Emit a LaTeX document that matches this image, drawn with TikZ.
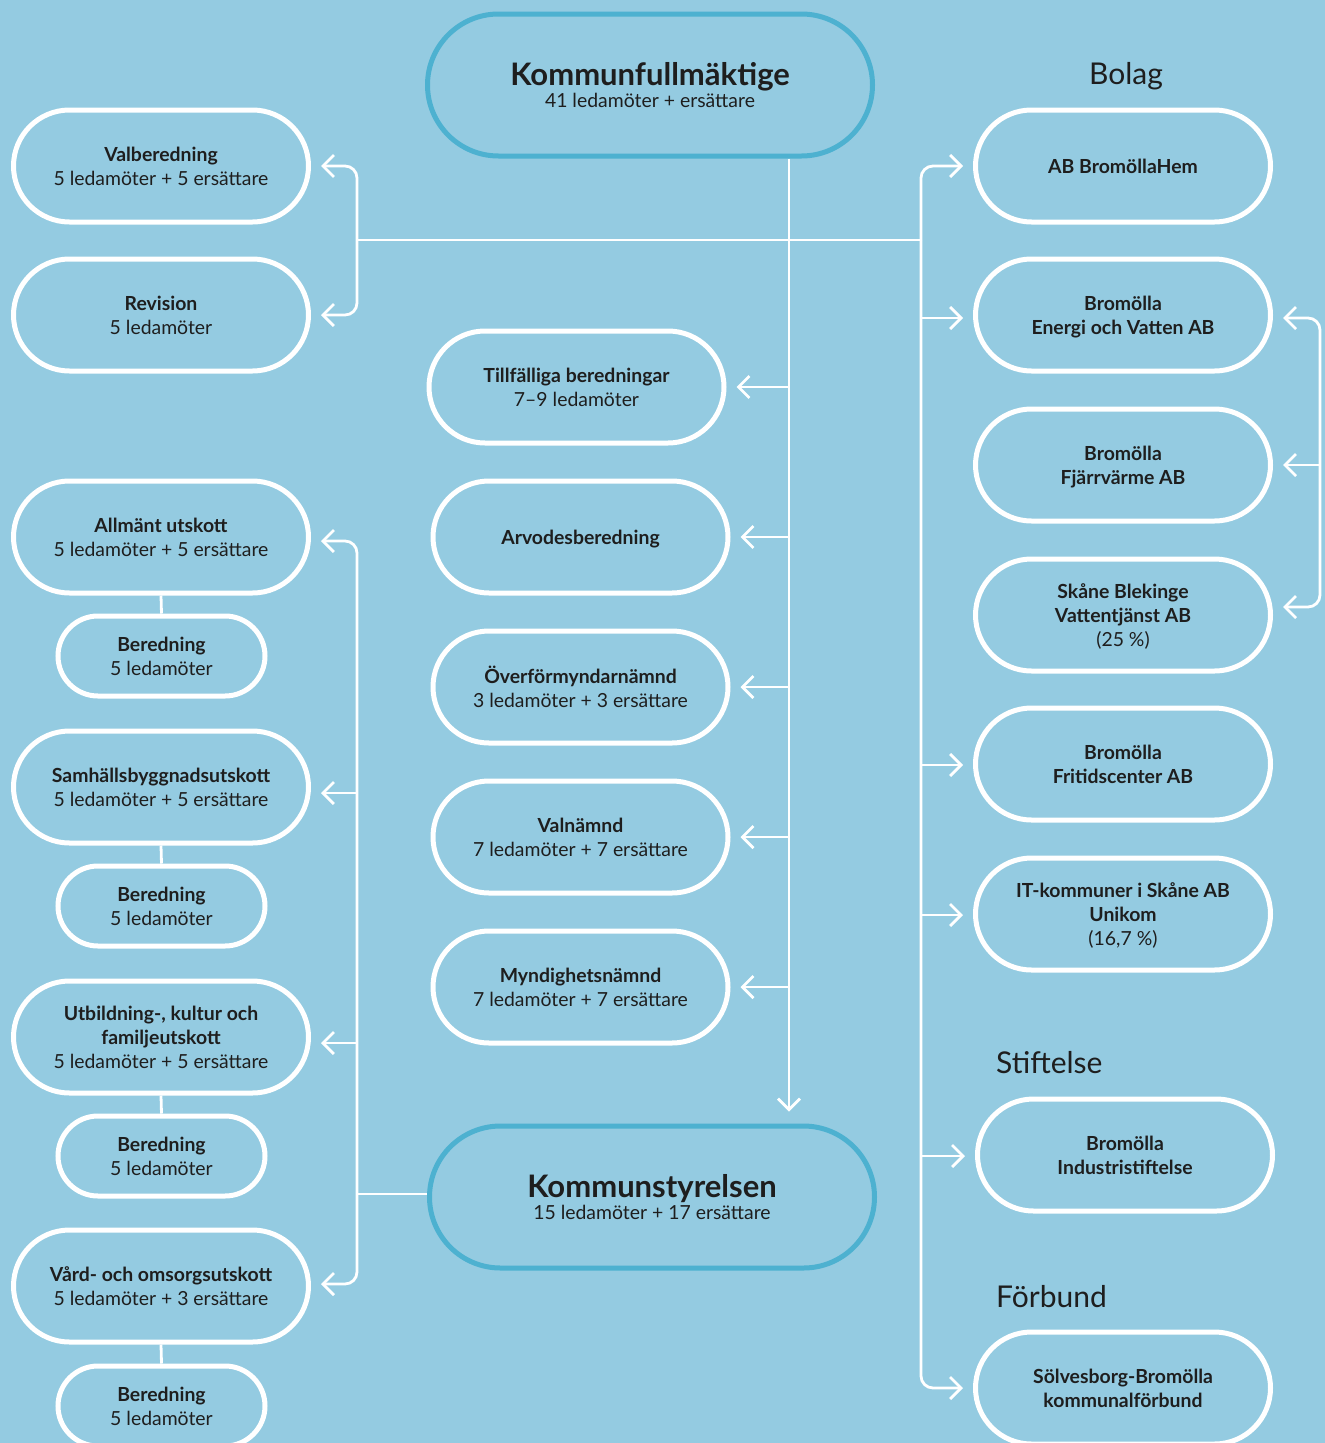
\documentclass[tikz,border=0pt]{standalone}
\usepackage{fontspec}
\setmainfont{Lato}
\usetikzlibrary{arrows.meta}
\definecolor{bg}{RGB}{148,203,225}
\definecolor{dk}{RGB}{77,177,208}
\definecolor{tx}{RGB}{30,30,30}
\begin{document}
\begin{tikzpicture}[x=1pt,y=-1pt,
  pill/.style={draw=white, line width=5pt, rounded corners=56pt, minimum width=295pt, minimum height=112pt, text=tx, align=center, font=\fontsize{19.4}{24}\selectfont, inner sep=0pt, text depth=-3pt},
  small/.style={pill, rounded corners=40pt, minimum width=207pt, minimum height=80pt},
  big/.style={pill, draw=dk, rounded corners=71pt, minimum width=445pt, minimum height=142pt},
  conn/.style={draw=white, line width=2.8pt, rounded corners=12pt},
  arr/.style={conn, -{Straight Barb[length=11pt,width=22pt]}, shorten >=10pt},
  barr/.style={conn, {Straight Barb[length=11pt,width=22pt]}-{Straight Barb[length=11pt,width=22pt]}, shorten >=10pt, shorten <=10pt},
  head/.style={text=tx, font=\fontsize{30}{36}\selectfont, inner sep=0pt}
]
\fill[bg] (0,0) rectangle (1325,1443);
\useasboundingbox (0,0) rectangle (1325,1443);

\coordinate (lx) at (357,0);
\coordinate (cx) at (789,0);
\coordinate (rx) at (921,0);
\coordinate (bx) at (1320,0);

% top / bottom
\node[big] (KF) at (650,85) {{\fontsize{31}{30}\selectfont\bfseries Kommunfullmäktige}\\[-2pt]41 ledamöter + ersättare};
\node[big] (KS) at (652,1197) {{\fontsize{31}{30}\selectfont\bfseries Kommunstyrelsen}\\[-2pt]15 ledamöter + 17 ersättare};

% left column
\node[pill] (Val) at (161,166) {\textbf{Valberedning}\\5 ledamöter + 5 ersättare};
\node[pill] (Rev) at (161,315) {\textbf{Revision}\\5 ledamöter};
\node[pill] (AU) at (161,537) {\textbf{Allmänt utskott}\\5 ledamöter + 5 ersättare};
\node[small] (B1) at (161.5,656) {\textbf{Beredning}\\5 ledamöter};
\node[pill] (SB) at (161,787) {\textbf{Samhällsbyggnadsutskott}\\5 ledamöter + 5 ersättare};
\node[small] (B2) at (161.5,906) {\textbf{Beredning}\\5 ledamöter};
\node[pill] (UK) at (161,1037) {\textbf{Utbildning-, kultur och}\\\textbf{familjeutskott}\\5 ledamöter + 5 ersättare};
\node[small] (B3) at (161.5,1156) {\textbf{Beredning}\\5 ledamöter};
\node[pill] (VO) at (161,1286) {\textbf{Vård- och omsorgsutskott}\\5 ledamöter + 3 ersättare};
\node[small] (B4) at (161.5,1406) {\textbf{Beredning}\\5 ledamöter};

% middle column
\node[pill] (TB) at (576.5,387) {\textbf{Tillfälliga beredningar}\\7–9 ledamöter};
\node[pill] (AB) at (580.5,537) {\textbf{Arvodesberedning}};
\node[pill] (OF) at (580.5,687) {\textbf{Överförmyndarnämnd}\\3 ledamöter + 3 ersättare};
\node[pill] (VN) at (580.5,837) {\textbf{Valnämnd}\\7 ledamöter + 7 ersättare};
\node[pill] (MN) at (580.5,987) {\textbf{Myndighetsnämnd}\\7 ledamöter + 7 ersättare};

% right column
\node[head] (Hb) at (1126,76) {Bolag};
\node[pill] (BH) at (1123,166) {\textbf{AB BromöllaHem}};
\node[pill] (EV) at (1123,315) {\textbf{Bromölla}\\\textbf{Energi och Vatten AB}};
\node[pill] (FV) at (1123,465) {\textbf{Bromölla}\\\textbf{Fjärrvärme AB}};
\node[pill] (SBV) at (1123,615) {\textbf{Skåne Blekinge}\\\textbf{Vattentjänst AB}\\(25 \%)};
\node[pill] (FC) at (1123,764) {\textbf{Bromölla}\\\textbf{Fritidscenter AB}};
\node[pill] (IT) at (1123,914) {\textbf{IT-kommuner i Skåne AB}\\\textbf{Unikom}\\(16,7 \%)};
\node[head, anchor=west] (Hs) at (996,1063) {Stiftelse};
\node[pill] (IS) at (1125,1155) {\textbf{Bromölla}\\\textbf{Industristiftelse}};
\node[head, anchor=west] (Hf) at (996,1297) {Förbund};
\node[pill] (SK) at (1123,1388) {\textbf{Sölvesborg-Bromölla}\\\textbf{kommunalförbund}};

% connectors: central trunk
\draw[arr, shorten >=12pt] (KF.south -| cx) -- (KS.north -| cx);
\foreach \n in {TB,AB,OF,VN,MN} \draw[arr] (\n.east -| cx) -- (\n.east);
\draw[conn] (lx |- 0,240) -- (rx |- 0,240);

% left top bracket
\draw[barr] (Val.east) -| (Rev.east -| lx) -- (Rev.east);

% left bottom bracket
\draw[barr] ([yshift=-4pt]AU.east) -| ([yshift=2pt]VO.east -| lx) -- ([yshift=2pt]VO.east);
\draw[arr] ([yshift=-6pt]SB.east -| lx) -- ([yshift=-6pt]SB.east);
\draw[arr] ([yshift=-6pt]UK.east -| lx) -- ([yshift=-6pt]UK.east);
\draw[conn] ([yshift=3pt]KS.west) -- ([yshift=3pt]KS.west -| lx);

% beredning links
\draw[conn] (AU.south) -- (B1.north);
\draw[conn] (SB.south) -- (B2.north);
\draw[conn] (UK.south) -- (B3.north);
\draw[conn] (VO.south) -- (B4.north);

% right bus
\coordinate (rj) at (921,240);
\draw[arr] (rj) |- (BH.west);
\draw[arr] (rj) |- (SK.west);
\draw[arr] ([yshift=-3pt]EV.west -| rx) -- ([yshift=-3pt]EV.west);
\foreach \n in {FC,IT,IS} \draw[arr] ([yshift=-1pt]\n.west -| rx) -- ([yshift=-1pt]\n.west);

% right bracket
\draw[barr] ([yshift=-3pt]EV.east) -| ([yshift=8pt]SBV.east -| bx) -- ([yshift=8pt]SBV.east);
\draw[arr] (FV.east -| bx) -- (FV.east);
\end{tikzpicture}
\end{document}
